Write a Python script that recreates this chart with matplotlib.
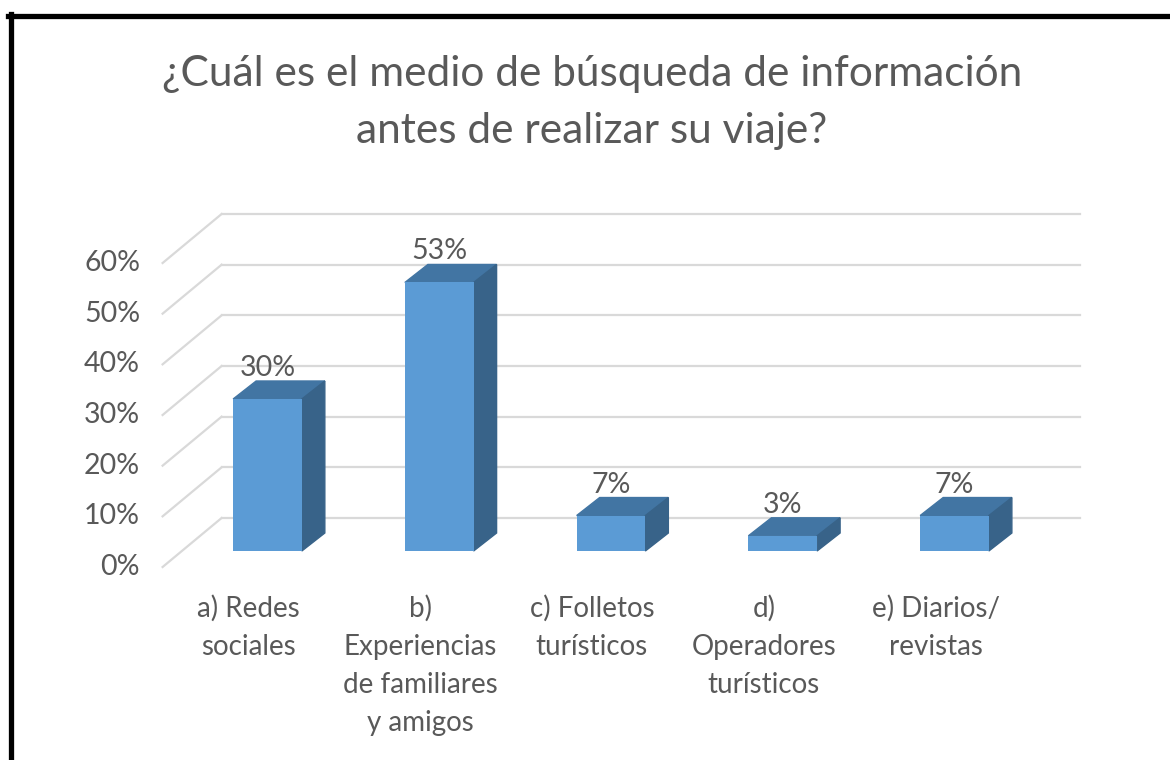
import matplotlib.pyplot as plt
from matplotlib.patches import Polygon
from matplotlib.lines import Line2D

plt.rcParams['font.family'] = ['Lato', 'DejaVu Sans']

# datos
categorias = ['a) Redes\nsociales',
              'b)\nExperiencias\nde familiares\ny amigos',
              'c) Folletos\nturísticos',
              'd)\nOperadores\nturísticos',
              'e) Diarios/\nrevistas']
valores = [0.30, 0.53, 0.07, 0.03, 0.07]
etiquetas = ['30%', '53%', '7%', '3%', '7%']
ticks = [0.0, 0.1, 0.2, 0.3, 0.4, 0.5, 0.6]
tick_labels = ['0%', '10%', '20%', '30%', '40%', '50%', '60%']
titulo = '¿Cuál es el medio de búsqueda de información\nantes de realizar su viaje?'

gris = '#595959'
frente = '#5B9BD5'
arriba = '#4275A3'
lado = '#386389'
rejilla = '#D9D9D9'

W, H = 1170, 760
fig = plt.figure(figsize=(W / 100, H / 100), dpi=100)

# plano frontal de las barras (px)
L, R, B, T = 181.6, 1040.4, 551, 247
ax = fig.add_axes([L / W, 1 - B / H, (R - L) / W, (B - T) / H])
ax.set_xlim(-0.5, 4.5)
ax.set_ylim(0, 0.6)
ax.axis('off')

sx = 5 / (R - L)      # datos por px
sy = 0.6 / (B - T)

# desplazamientos de profundidad (px)
bx, by = 40 * sx, 33 * sy      # pared del fondo
fx, fy = -19 * sx, -16 * sy    # borde frontal
dx, dy = 23 * sx, 18 * sy      # fondo de la barra

# rejilla: pared del fondo y pared lateral
for v in ticks:
    ax.plot([-0.5 + bx, 4.5 + bx], [v + by, v + by], color=rejilla, lw=1.6,
            clip_on=False, zorder=1)
    ax.plot([-0.5 + fx, -0.5 + bx], [v + fy, v + by], color=rejilla, lw=1.6,
            clip_on=False, zorder=1)

# barras 3D
w = 0.40
for i, v in enumerate(valores):
    ax.bar(i, v, w, color=frente, zorder=3, clip_on=False)
    top = [(i - w / 2, v), (i + w / 2, v), (i + w / 2 + dx, v + dy), (i - w / 2 + dx, v + dy)]
    side = [(i + w / 2, 0), (i + w / 2, v), (i + w / 2 + dx, v + dy), (i + w / 2 + dx, dy)]
    ax.add_patch(Polygon(top, closed=True, color=arriba, zorder=2, clip_on=False))
    ax.add_patch(Polygon(side, closed=True, color=lado, zorder=2, clip_on=False))
    ax.text(i, v + 23 * sy, etiquetas[i], ha='center', va='baseline',
            fontsize=20.5, color=gris, zorder=4)

# etiquetas eje y
for v, t in zip(ticks, tick_labels):
    ax.text(-0.5 + (140 - L) * sx, v + fy, t, ha='right', va='center',
            fontsize=20.5, color=gris, clip_on=False)

# etiquetas de categorias
for i, c in enumerate(categorias):
    ax.text(i + fx, -(595 - B) * sy, c, ha='center', va='top',
            multialignment='center', fontsize=20, color=gris,
            linespacing=1.57, clip_on=False)

fig.text(0.506, 1 - 55 / H, titulo, ha='center', va='top', fontsize=30.5,
         color=gris, linespacing=1.6)

# marco negro (arriba e izquierda)
fig.add_artist(Line2D([8 / W, 1], [1 - 16 / H, 1 - 16 / H], color='black',
                      lw=3.8, transform=fig.transFigure))
fig.add_artist(Line2D([10.5 / W, 10.5 / W], [0, 1 - 14 / H], color='black',
                      lw=3.8, transform=fig.transFigure))

fig.savefig('out.png', dpi=100, facecolor='white')
